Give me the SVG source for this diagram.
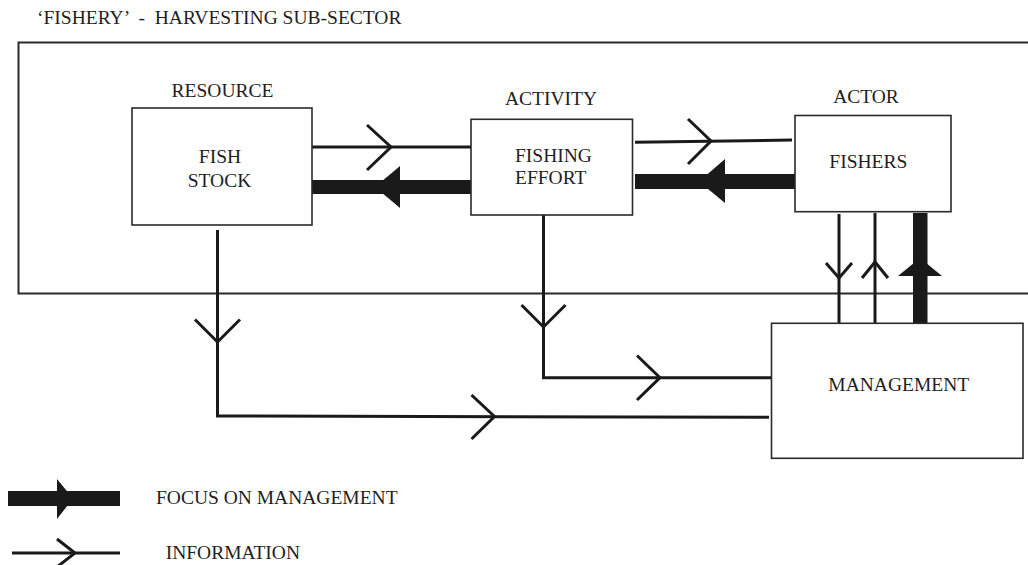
<svg xmlns="http://www.w3.org/2000/svg" width="1028" height="565" viewBox="0 0 1028 565">
  <style>
    text { font-family: "Liberation Serif", "Times New Roman", serif; font-size: 19.5px; fill: #1e1e1e; }
    .box { fill: #ffffff; stroke: #2a2a2a; stroke-width: 1.6; }
    .frame { fill: none; stroke: #2a2a2a; stroke-width: 2; }
    .info { fill: none; stroke: #1a1a1a; stroke-width: 3; stroke-linecap: butt; stroke-linejoin: miter; }
    .focus { fill: #1a1a1a; stroke: none; }
  </style>

  <!-- heading -->
  <g id="title">
    <text x="37" y="24" xml:space="preserve">‘FISHERY’  -  HARVESTING SUB-SECTOR</text>
  </g>

  <!-- harvesting sub-sector boundary (open to the right) -->
  <g id="sub-sector">
    <rect class="frame" x="18.5" y="42.5" width="1030" height="251"/>
  </g>

  <g id="connectors">
    <!-- fish stock -> fishing effort (information) -->
    <path class="info" d="M312 147 H471"/>
    <path class="info" d="M367 125 L391 147 L367 170"/>
    <!-- fishing effort -> fish stock (management focus) -->
    <rect class="focus" x="312" y="180" width="159" height="14"/>
    <polygon class="focus" points="375,187 400,166 400,208"/>

    <!-- fishing effort -> fishers (information) -->
    <path class="info" d="M635 142.3 L792 140"/>
    <path class="info" d="M688 119 L711 141 L688 164"/>
    <!-- fishers -> fishing effort (management focus) -->
    <rect class="focus" x="635" y="174" width="160" height="15"/>
    <polygon class="focus" points="699,181.5 725,159 725,203"/>

    <!-- fishers <-> management -->
    <path class="info" d="M839 214 V328"/>
    <path class="info" d="M826 263 L839 278 L852 263"/>
    <path class="info" d="M875 213 V326"/>
    <path class="info" d="M862 278 L875 262 L888 278"/>
    <rect class="focus" x="913" y="213" width="14.5" height="112"/>
    <polygon class="focus" points="898,276 942,276 920,258"/>

    <!-- fishing effort -> management -->
    <path class="info" d="M543.5 215 V377.7 H771"/>
    <path class="info" d="M521.5 305 L543.5 327 L565.5 305"/>
    <path class="info" d="M637 355.5 L660 377.7 L637 400"/>

    <!-- fish stock -> management -->
    <path class="info" d="M217.5 230 V416 L769 417.3"/>
    <path class="info" d="M195 319.5 L217.5 342 L240 319.5"/>
    <path class="info" d="M471.5 395 L494.5 416.5 L471.5 439"/>
  </g>

  <g id="fish-stock">
    <text x="222.5" y="97.3" text-anchor="middle">RESOURCE</text>
    <rect class="box" x="132" y="108" width="180" height="117"/>
    <text x="220" y="163.3" text-anchor="middle">FISH</text>
    <text x="219.5" y="187.3" text-anchor="middle">STOCK</text>
  </g>

  <g id="fishing-effort">
    <text x="551" y="105" text-anchor="middle">ACTIVITY</text>
    <rect class="box" x="471" y="119.3" width="161.5" height="95.7"/>
    <text x="515" y="161.7">FISHING</text>
    <text x="515" y="184.3">EFFORT</text>
  </g>

  <g id="fishers">
    <text x="866" y="103.3" text-anchor="middle">ACTOR</text>
    <rect class="box" x="795" y="115.5" width="156" height="96.2"/>
    <text x="829.3" y="168.3">FISHERS</text>
  </g>

  <g id="management">
    <rect class="box" x="771.5" y="323.3" width="251.5" height="135"/>
    <text x="828.3" y="390.7">MANAGEMENT</text>
  </g>

  <g id="legend">
    <rect class="focus" x="8" y="491" width="112" height="15"/>
    <polygon class="focus" points="57,479 73,498.5 57,519"/>
    <text x="156" y="504">FOCUS ON MANAGEMENT</text>
    <path class="info" d="M12 553 H120"/>
    <path class="info" d="M57 539 L75 553 L57 567"/>
    <text x="165.7" y="559">INFORMATION</text>
  </g>
</svg>
